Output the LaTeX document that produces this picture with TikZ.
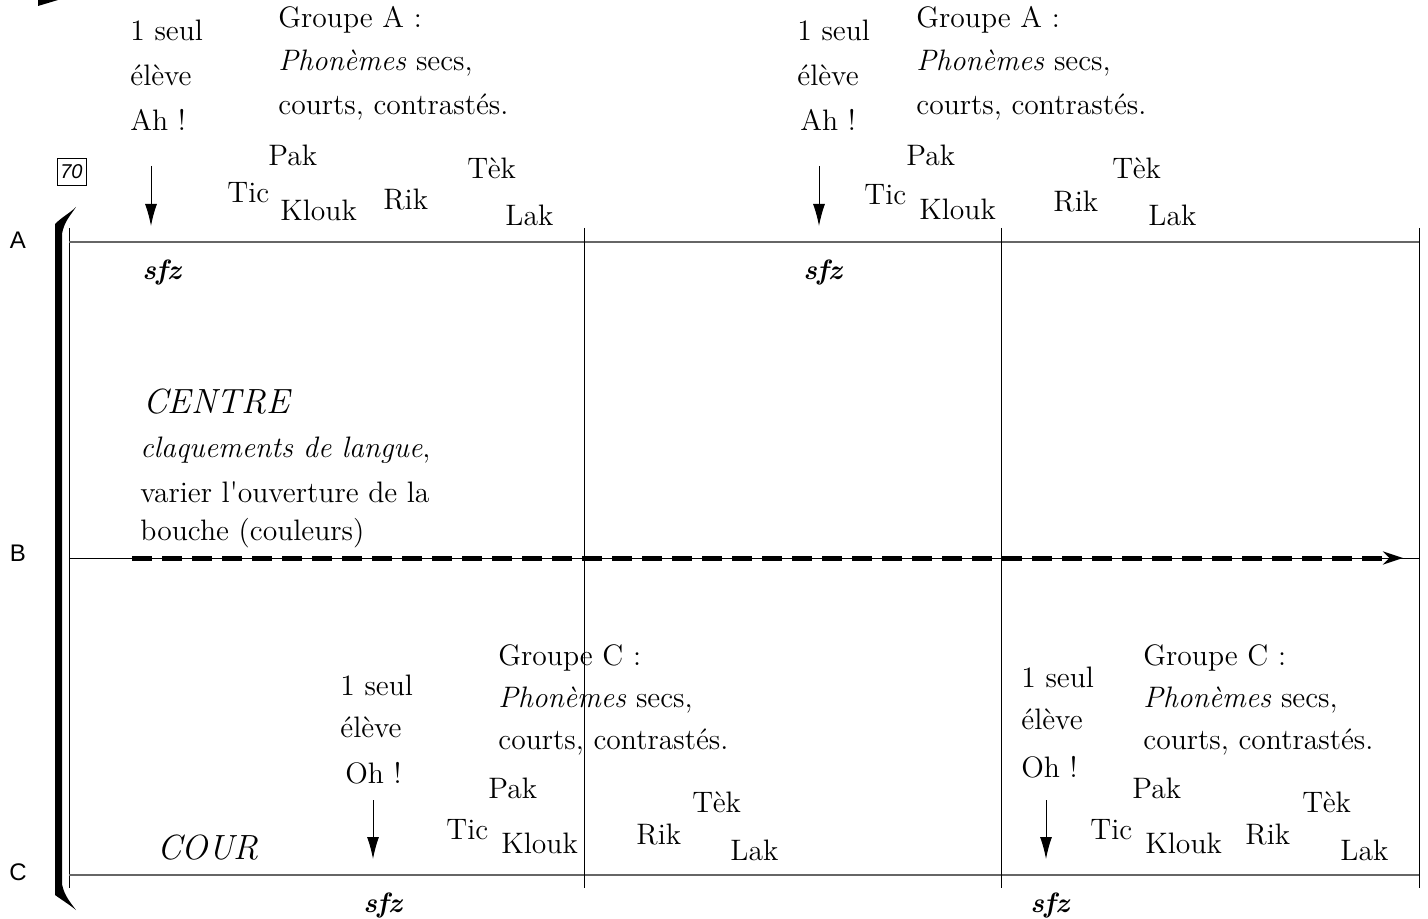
\documentclass[tikz,border=0pt]{standalone}
\usepackage{fontspec}
\setsansfont{Liberation Sans}
\usetikzlibrary{arrows.meta}

\begin{document}
\begin{tikzpicture}[
		x=0.5pt,y=-0.5pt,
		txt/.style={anchor=west,inner sep=0pt,font=\fontsize{14.8}{18}\selectfont},
		big/.style={anchor=west,inner sep=0pt,font=\fontsize{17.5}{20}\selectfont\itshape},
		dyn/.style={anchor=west,inner sep=0pt,font=\fontsize{14}{16}\selectfont\bfseries\itshape},
		lbl/.style={inner sep=0pt,font=\fontsize{12}{14}\selectfont\sffamily},
		staff/.style={line width=1pt,black!60},
		barline/.style={line width=0.5pt},
		dn/.style={-{Latex[length=11pt,width=6pt]},line width=0.5pt}
		]
		\useasboundingbox (0,0) rectangle (1428,919);
		
		% left bracket and system
		\fill (38,0) -- (58,0) -- (38,6) -- cycle;
		\fill (55,224) .. controls (62,217) and (70,213) .. (76,207) .. controls (70,216) and (64,222) .. (62,234) -- (62,884) .. controls (64,895) and (70,902) .. (76,910) .. controls (70,905) and (62,900) .. (55,895) -- cycle;
		\coordinate (s0) at (69,228);
		\coordinate (s1) at (69,888);
		\draw[barline] (s0) -- (s1);
		\node[draw,line width=0.4pt,inner sep=1pt,minimum width=14.5pt,minimum height=13.5pt,font=\fontsize{10}{11}\selectfont\sffamily\itshape] (reh) at (71.5,171.5) {70};
		\node[lbl] (labA) at (18,240) {A};
		\node[lbl] (labB) at (18,553) {B};
		\node[lbl] (labC) at (18,872) {C};
		
		% staff lines
		\coordinate (A0) at (69,242);
		\coordinate (A1) at (1420,242);
		\coordinate (B0) at (69,558);
		\coordinate (B1) at (1420,558);
		\coordinate (C0) at (69,875);
		\coordinate (C1) at (1420,875);
		\draw[staff] (A0) -- (A1);
		\draw[barline] (B0) -- (B1);
		\draw[staff] (C0) -- (C1);
		
		% bar lines
		\coordinate (v1t) at (584,228);
		\coordinate (v1b) at (584,888);
		\coordinate (v2t) at (1001,228);
		\coordinate (v2b) at (1001,888);
		\coordinate (v3t) at (1419,228);
		\coordinate (v3b) at (1419,888);
		\draw[barline] (v1t) -- (v1b);
		\draw[barline] (v2t) -- (v2b);
		\draw[barline] (v3t) -- (v3b);
		
		% dashed line B
		\coordinate (d0) at (132,558);
		\coordinate (d1) at (1403,558);
		\draw[line width=2.5pt,dash pattern=on 10pt off 5pt,-{Stealth[length=10pt,width=6.5pt]}] (d0) -- (d1);
		
		% A, first bar
		\node[txt] (seul1) at (130,30) {1 seul};
		\node[txt] (eleve1) at (130,75) {élève};
		\node[txt] (ah1) at (130,120) {Ah~!};
		\node[txt] (grpA1) at (278,20) {Groupe A :};
		\node[txt] (phonA1) at (278,63) {\textit{Phonèmes} secs,};
		\node[txt] (courtA1) at (278,107) {courts, contrastés.};
		\node[txt] (pak1) at (268,155) {Pak};
		\node[txt] (tic1) at (227,193) {Tic};
		\node[txt] (klouk1) at (280,210) {Klouk};
		\node[txt] (rik1) at (383,200) {Rik};
		\node[txt] (tek1) at (467,168) {Tèk};
		\node[txt] (lak1) at (505,215) {Lak};
		\node[dyn] (sfz1) at (142,273) {sfz};
		\coordinate (a1s) at (151,166);
		\coordinate (a1e) at (151,226);
		\draw[dn] (a1s) -- (a1e);
		
		% A, second bar
		\node[txt] (seul2) at (797,30) {1 seul};
		\node[txt] (eleve2) at (797,75) {élève};
		\node[txt] (ah2) at (800,120) {Ah~!};
		\node[txt] (grpA2) at (916,20) {Groupe A :};
		\node[txt] (phonA2) at (916,63) {\textit{Phonèmes} secs,};
		\node[txt] (courtA2) at (916,107) {courts, contrastés.};
		\node[txt] (pak2) at (906,155) {Pak};
		\node[txt] (tic2) at (864,195) {Tic};
		\node[txt] (klouk2) at (919,209) {Klouk};
		\node[txt] (rik2) at (1053,202) {Rik};
		\node[txt] (tek2) at (1112,168) {Tèk};
		\node[txt] (lak2) at (1148,215) {Lak};
		\node[dyn] (sfz2) at (803,273) {sfz};
		\coordinate (a2s) at (819,166);
		\coordinate (a2e) at (819,226);
		\draw[dn] (a2s) -- (a2e);
		
		% B
		\node[big] (centre) at (143,402) {CENTRE};
		\node[txt] (claq) at (140,450) {\textit{claquements de langue},};
		\node[txt] (varier) at (140,492) {varier l\textquotesingle ouverture de la};
		\node[txt] (bouche) at (140,533) {bouche (couleurs)};
		
		% C, first bar
		\node[big] (cour) at (157,848) {COUR};
		\node[txt] (seul3) at (340,685) {1 seul};
		\node[txt] (eleve3) at (340,727) {élève};
		\node[txt] (oh3) at (345,773) {Oh~!};
		\node[txt] (grpC3) at (498,658) {Groupe C :};
		\node[txt] (phonC3) at (498,700) {\textit{Phonèmes} secs,};
		\node[txt] (courtC3) at (498,742) {courts, contrastés.};
		\node[txt] (pak3) at (488,788) {Pak};
		\node[txt] (tic3) at (446,830) {Tic};
		\node[txt] (klouk3) at (501,843) {Klouk};
		\node[txt] (rik3) at (636,835) {Rik};
		\node[txt] (tek3) at (692,802) {Tèk};
		\node[txt] (lak3) at (730,850) {Lak};
		\node[dyn] (sfz3) at (363,905) {sfz};
		\coordinate (a3s) at (373,800);
		\coordinate (a3e) at (373,859);
		\draw[dn] (a3s) -- (a3e);
		
		% C, second bar
		\node[txt] (seul4) at (1021,677) {1 seul};
		\node[txt] (eleve4) at (1021,719) {élève};
		\node[txt] (oh4) at (1021,767) {Oh~!};
		\node[txt] (grpC4) at (1143,658) {Groupe C :};
		\node[txt] (phonC4) at (1143,700) {\textit{Phonèmes} secs,};
		\node[txt] (courtC4) at (1143,742) {courts, contrastés.};
		\node[txt] (pak4) at (1132,788) {Pak};
		\node[txt] (tic4) at (1090,830) {Tic};
		\node[txt] (klouk4) at (1145,843) {Klouk};
		\node[txt] (rik4) at (1245,835) {Rik};
		\node[txt] (tek4) at (1302,802) {Tèk};
		\node[txt] (lak4) at (1340,850) {Lak};
		\node[dyn] (sfz4) at (1030,905) {sfz};
		\coordinate (a4s) at (1046,800);
		\coordinate (a4e) at (1046,859);
		\draw[dn] (a4s) -- (a4e);
		\end{tikzpicture}
\end{document}
